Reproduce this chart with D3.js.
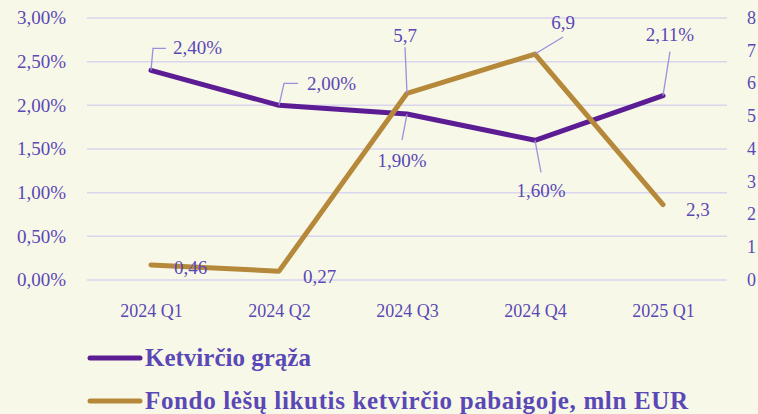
<!DOCTYPE html>
<html><head><meta charset="utf-8">
<script src="https://cdn.jsdelivr.net/npm/d3@7"></script>
<style>
html,body{margin:0;padding:0;background:#f8f8e8;}
svg{display:block;}
svg text{font-family:"Liberation Serif","DejaVu Serif",serif;}
</style></head>
<body><svg id="c" width="758" height="414"></svg>
<script>
const categories = ["2024 Q1","2024 Q2","2024 Q3","2024 Q4","2025 Q1"];
const returnValues = [2.40, 2.00, 1.90, 1.60, 2.11];
const fundValues = [0.46, 0.27, 5.7, 6.9, 2.3];
const leftTicks = [0, 0.5, 1, 1.5, 2, 2.5, 3];
const rightTicks = [0,1,2,3,4,5,6,7,8];
const seriesNames = ["Ketvirčio grąža","Fondo lėšų likutis ketvirčio pabaigoje, mln EUR"];

const returnLabelLayout = [
  {tx:22, ty:-23, leader:"elbow", lx:2, ly:-22, hx:15},
  {tx:28, ty:-22, leader:"elbow", lx:5, ly:-22, hx:19},
  {tx:-5, ty:46, leader:"line", lx:-5, ly:26, anchor:"middle"},
  {tx:6, ty:50, leader:"line", lx:6, ly:32, anchor:"middle"},
  {tx:7, ty:-61, leader:"line", lx:7, ly:-44, anchor:"middle"}
];
const fundLabelLayout = [
  {tx:23, ty:2, leader:"none"},
  {tx:24, ty:5, leader:"none"},
  {tx:-2, ty:-58, leader:"line", lx:-2, ly:-46, anchor:"middle"},
  {tx:28, ty:-32, leader:"line", lx:28, ly:-17, anchor:"middle"},
  {tx:23, ty:5, leader:"none"}
];

const W=758,H=414;
const m={left:87,right:31,top:18,bottom:134};
const svg=d3.select("#c");
const textColor="#5a48b6";
const purple="#5c1d94", gold="#b5883a", grid="#d9d5ef", leaderC="#9b90dc";
const FONT='"Liberation Serif","DejaVu Serif",serif';

svg.append("rect").attr("width",W).attr("height",H).attr("fill","#f8f8e8");

const x=d3.scalePoint().domain(categories).range([m.left,W-m.right]).padding(0.5);
const yL=d3.scaleLinear().domain([0,3]).range([H-m.bottom,m.top]);
const yR=d3.scaleLinear().domain([0,8]).range([H-m.bottom,m.top]);

svg.append("g").selectAll("line").data(leftTicks).join("line")
  .attr("x1",m.left).attr("x2",W-m.right)
  .attr("y1",d=>yL(d)).attr("y2",d=>yL(d))
  .attr("stroke",grid).attr("stroke-width",1.5);

const fmtPct=d=>d.toFixed(2).replace(".",",")+"%";
const gL=svg.append("g").attr("transform",`translate(${m.left-21},0)`)
  .call(d3.axisLeft(yL).tickValues(leftTicks).tickFormat(fmtPct).tickSize(0).tickPadding(0));
gL.attr("font-family",FONT);
gL.select(".domain").remove();
gL.selectAll("text").attr("fill",textColor).style("font-size","19px").attr("dy","0.3em");

const gR=svg.append("g").attr("transform",`translate(${W-11},0)`)
  .call(d3.axisRight(yR).tickValues(rightTicks).tickFormat(d3.format("d")).tickSize(0).tickPadding(0));
gR.attr("font-family",FONT);
gR.select(".domain").remove();
gR.selectAll("text").attr("fill",textColor).style("font-size","18px").attr("dy","0.3em");

const gX=svg.append("g").attr("transform",`translate(0,${H-m.bottom+37})`)
  .call(d3.axisBottom(x).tickSize(0).tickPadding(0));
gX.attr("font-family",FONT);
gX.select(".domain").remove();
gX.selectAll("text").attr("fill",textColor).style("font-size","18px").attr("dy","0");

const lineL=d3.line().x((d,i)=>x(categories[i])).y(d=>yL(d));
const lineR=d3.line().x((d,i)=>x(categories[i])).y(d=>yR(d));
svg.append("path").datum(returnValues).attr("d",lineL).attr("fill","none")
  .attr("stroke",purple).attr("stroke-width",5).attr("stroke-linecap","round").attr("stroke-linejoin","round");
svg.append("path").datum(fundValues).attr("d",lineR).attr("fill","none")
  .attr("stroke",gold).attr("stroke-width",5).attr("stroke-linecap","round").attr("stroke-linejoin","round");

function labels(values, yS, layout, fmt){
  const g=svg.append("g");
  values.forEach((v,i)=>{
    const px=x(categories[i]), py=yS(v), L=layout[i];
    if(L.leader==="elbow"){
      g.append("polyline").attr("points",`${px},${py} ${px+L.lx},${py+L.ly} ${px+L.hx},${py+L.ly}`)
        .attr("fill","none").attr("stroke",leaderC).attr("stroke-width",1.3);
    } else if(L.leader==="line"){
      g.append("line").attr("x1",px).attr("y1",py).attr("x2",px+L.lx).attr("y2",py+L.ly)
        .attr("stroke",leaderC).attr("stroke-width",1.3);
    }
    g.append("text").attr("x",px+L.tx).attr("y",py+L.ty)
      .attr("text-anchor",L.anchor||"start").attr("dy","0.35em")
      .attr("fill",textColor).style("font-size","19px").text(fmt(v));
  });
}
labels(returnValues,yL,returnLabelLayout,fmtPct);
labels(fundValues,yR,fundLabelLayout,d=>String(d).replace(".",","));

const legend=svg.append("g");
const legendY=[358,401];
const legendColors=[purple,gold];
const legendTextLen=[null,543];
seriesNames.forEach((n,i)=>{
  legend.append("line").attr("x1",90).attr("x2",140).attr("y1",legendY[i]).attr("y2",legendY[i])
    .attr("stroke",legendColors[i]).attr("stroke-width",5).attr("stroke-linecap","round");
  const t=legend.append("text").attr("x",145).attr("y",legendY[i]).attr("dy","0.33em")
    .attr("fill",textColor).style("font-size","25px").style("font-weight","bold").text(n);
  if(legendTextLen[i]) t.attr("textLength",legendTextLen[i]).attr("lengthAdjust","spacing");
});
</script></body></html>
